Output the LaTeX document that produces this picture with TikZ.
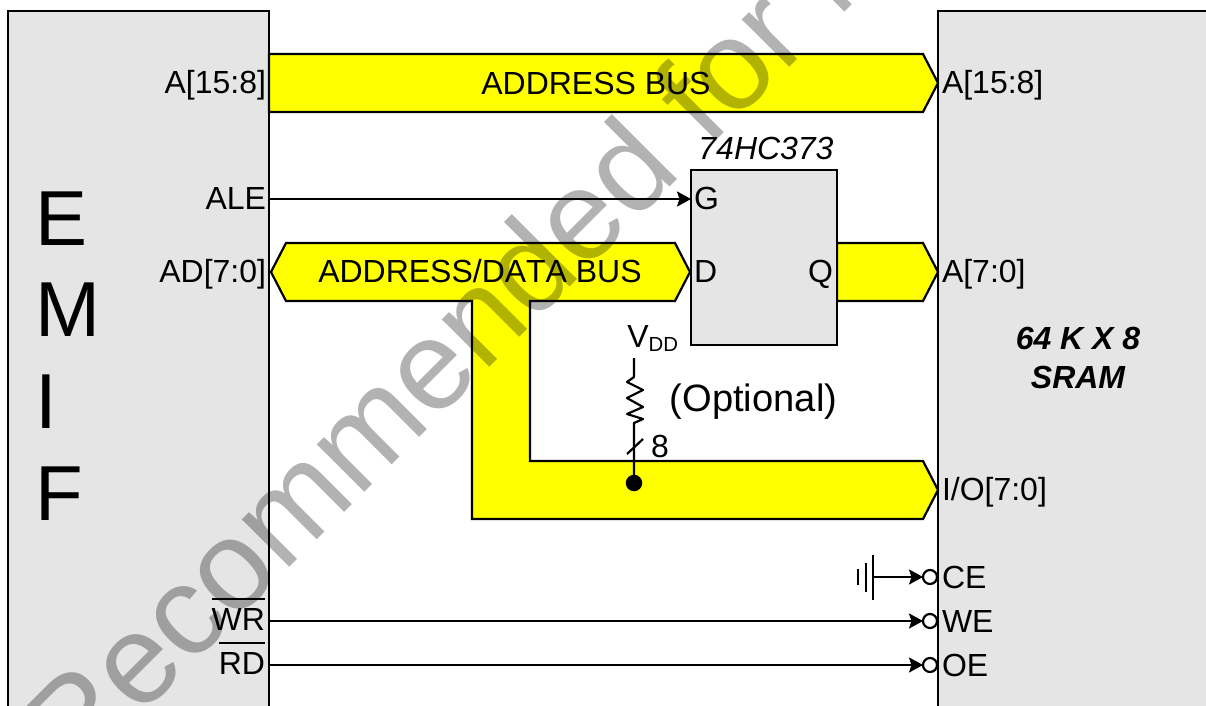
\documentclass[tikz,border=0pt]{standalone}
\usepackage{fontspec}
\setmainfont[Kerning=Off]{Liberation Sans}
\usetikzlibrary{arrows.meta, positioning, calc}
\definecolor{BlockGray}{rgb}{0.898, 0.898, 0.898}
\definecolor{BusYellow}{rgb}{1, 1, 0}
\newcommand{\lbl}{\fontsize{18.2}{20}\selectfont}
\newcommand{\ovl}[1]{\vbox{\hrule height 1.1pt\kern 4.6pt\hbox{#1}}}
\tikzset{
    wire/.style={line width=1.25pt, black},
    sig/.style={wire, -{Stealth[length=2.8mm, width=3mm, inset=0.5mm]}},
    blockbox/.style={draw, wire, fill=BlockGray, rectangle, anchor=north west, inner sep=0pt, outer sep=0pt},
    bus/.style={draw, wire, fill=BusYellow, line join=miter},
    pin/.style={font=\lbl, inner sep=0pt, outer sep=0pt},
    bubble/.style={draw, wire, fill=white, circle, minimum size=0.28cm, inner sep=0pt, outer sep=0pt},
}

\begin{document}
\begin{tikzpicture}[x=0.02cm, y=-0.02cm, font=\lbl]

\useasboundingbox (0,0) rectangle (1206,706);
\clip (0,0) rectangle (1206,706);

% bloques
\node[blockbox, minimum width=5.22cm, minimum height=15cm] (emif) at (8,11) {};
\node[blockbox, minimum width=6.5cm, minimum height=15cm] (sram) at (938,11) {};
\node[anchor=west, align=left, inner sep=0pt, font=\fontsize{44.4}{52.2}\selectfont] (emiftext) at (35,356) {E\\M\\I\\F};
\node[font=\lbl\bfseries\itshape, align=center, inner sep=0pt] (sramtext) at (1078,358) {64 K X 8\\[2pt]SRAM};

% buses
\draw[bus] (269,54) -- (923,54) -- (938,83) -- (923,112) -- (269,112) -- cycle;
\draw[bus] (271,272) -- (286,243) -- (675,243) -- (690,272) -- (675,301) -- (530,301)
    -- (530,461) -- (923,461) -- (938,490) -- (923,519) -- (472,519) -- (472,301) -- (286,301) -- cycle;
\draw[bus] (837,243) -- (923,243) -- (938,272) -- (923,301) -- (837,301) -- cycle;

% latch
\node[blockbox, minimum width=2.92cm, minimum height=3.5cm] (latch) at (691,170) {};
\node[font=\lbl\itshape, inner sep=0pt] (latchname) at (766,148) {74HC373};
\node[pin, anchor=base west] (gpin) at (694,209) {G};
\node[pin, anchor=base west] (dpin) at (694,282) {D};
\node[pin, anchor=base east] (qpin) at (833,282) {Q};

% textos de bus
\node[inner sep=0pt] (addrbus) at (596,83) {ADDRESS BUS};
\node[inner sep=0pt] (adbus) at (480,271) {ADDRESS/DATA BUS};

% pines
\foreach \n/\y/\t in {a15/93/{A[15:8]}, ale/209/{ALE}, ad/282/{AD[7:0]}}{
    \node[pin, anchor=base east] (\n) at (266,\y) {\t};
}
\foreach \n/\y/\t in {ra15/93/{A[15:8]}, ra7/282/{A[7:0]}, rio/500/{I/O[7:0]}, rce/588/{CE}, rwe/632/{WE}, roe/676/{OE}}{
    \node[pin, anchor=base west] (\n) at (942,\y) {\t};
}
\node[pin, anchor=base east] (wr) at (265,630) {\ovl{WR}};
\node[pin, anchor=base east] (rd) at (265,674) {\ovl{RD}};

% lineas
\coordinate (aleout) at (269,199);
\coordinate (wrout) at (269,621);
\coordinate (rdout) at (269,665);
\draw[sig] (aleout) -- (latch.west |- aleout);
\node[bubble] (cebub) at (930,577) {};
\node[bubble] (webub) at (930,621) {};
\node[bubble] (oebub) at (930,665) {};
\draw[sig] (wrout) -- (webub.west);
\draw[sig] (rdout) -- (oebub.west);

% tierra
\coordinate (gnd) at (873,577);
\draw[sig] (gnd) -- (cebub.west);
\draw[wire] (873,555) -- (873,600);
\draw[wire] (866,563) -- (866,592);
\draw[wire] (858,569) -- (858,585);

% VDD y resistencia
\node[inner sep=0pt, anchor=base west] (vdd) at (627,347) {V\raisebox{-2.8pt}{\fontsize{11.6}{14}\selectfont DD}};
\node[fill=black, circle, minimum size=0.33cm, inner sep=0pt, outer sep=0pt] (tap) at (634,483) {};
\coordinate (vddend) at (634,358);
\draw[wire, line join=round] (vddend) -- (634,377) -- (627,382) -- (643,390) -- (627,398) -- (643,407)
    -- (627,414) -- (643,419) -- (634,423) -- (tap.center);
\coordinate (slasha) at (627,454);
\coordinate (slashb) at (643,439);
\draw[wire] (slasha) -- (slashb);
\node[inner sep=0pt] (buswidth) at (660,446) {8};
\node[inner sep=0pt, font=\fontsize{21.7}{24}\selectfont] (optional) at (753.5,402) {(Optional)};

% marca de agua
\begin{scope}[blend mode=multiply]
\node[rotate=45, anchor=base west, inner sep=0pt, text=black!30, font=\fontsize{72.3}{80}\selectfont] (mark) at (74,783) {Recommended for N};
\end{scope}

\end{tikzpicture}
\end{document}
